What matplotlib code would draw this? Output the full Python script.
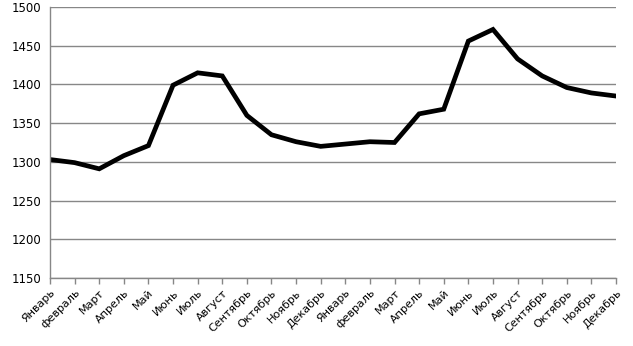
import matplotlib
matplotlib.use('Agg')
import matplotlib.pyplot as plt

# Monthly values over two years
months = ['Январь', 'февраль', 'Март', 'Апрель', 'Май', 'Июнь', 'Июль',
          'Август', 'Сентябрь', 'Октябрь', 'Ноябрь', 'Декабрь']
labels = months + months
values = [1303, 1299, 1291, 1308, 1321, 1399, 1415, 1411, 1360, 1335, 1326, 1320,
          1323, 1326, 1325, 1362, 1368, 1456, 1471, 1433, 1411, 1396, 1389, 1385]

grid_col = '#878787'

fig = plt.figure(figsize=(6.33, 3.46), dpi=100)
ax = fig.add_axes([50 / 633, 1 - 278 / 346, 566 / 633, 271 / 346])

x = list(range(len(values)))
ax.plot(x, values, color='black', linewidth=3.4, solid_joinstyle='miter')

ax.set_xlim(0, len(values) - 1)
ax.set_ylim(1150, 1500)
ax.set_yticks(range(1150, 1501, 50))
ax.yaxis.grid(True, color=grid_col, linewidth=1)
ax.set_axisbelow(True)

ax.set_xticks(x)
ax.set_xticklabels(labels, rotation=45, ha='right', rotation_mode='anchor',
                   fontsize=8)
ax.tick_params(axis='y', length=0, labelsize=8.5, pad=6)
ax.tick_params(axis='x', length=4, color=grid_col, width=1, pad=3)

for s in ['top', 'right']:
    ax.spines[s].set_visible(False)
for s in ['left', 'bottom']:
    ax.spines[s].set_color(grid_col)
    ax.spines[s].set_linewidth(1)

plt.savefig('out.png', dpi=100)
